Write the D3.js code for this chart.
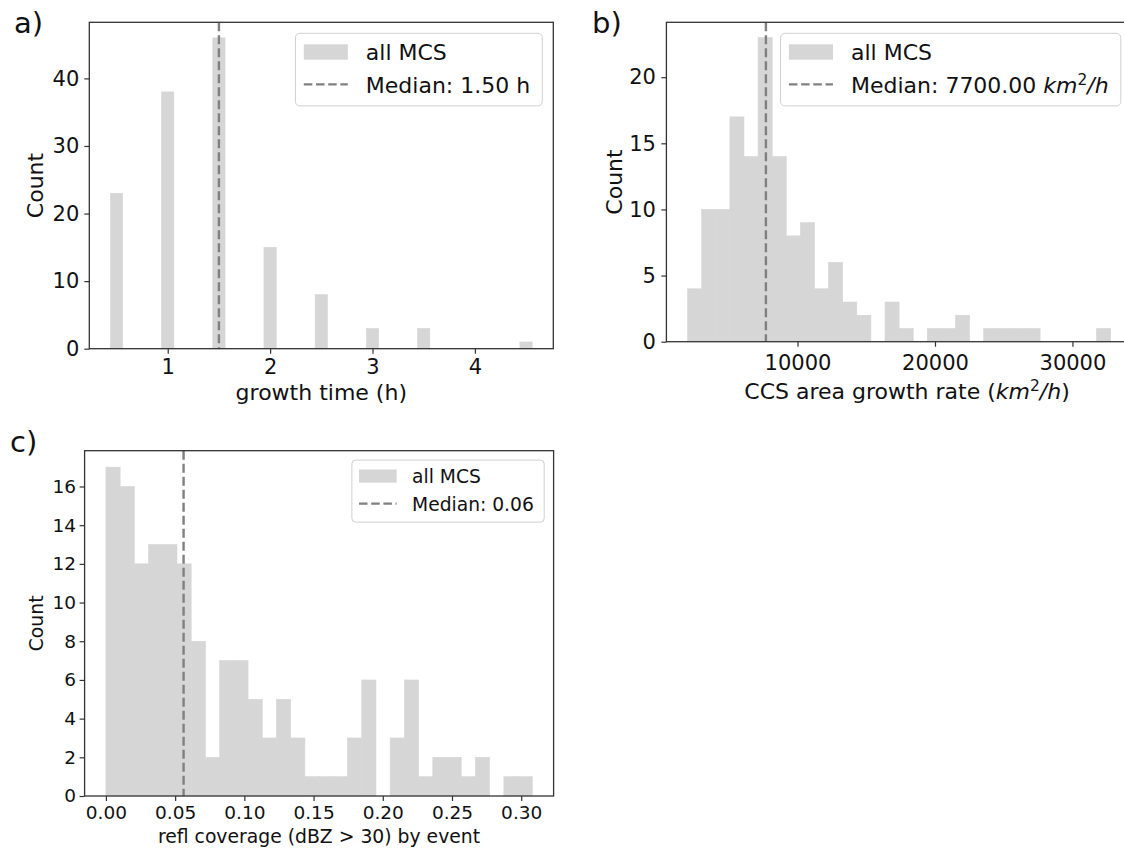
<!DOCTYPE html>
<html>
<head>
<meta charset="utf-8">
<script src="https://cdn.jsdelivr.net/npm/d3@7"></script>
<style>
  body { margin: 0; background: #fff; }
  svg text { font-family: "DejaVu Sans", sans-serif; }
</style>
</head>
<body>
<div id="chart"></div>
<script>
// a) growth time, one bar per half hour
const growthTimes = [0.5, 1.0, 1.5, 2.0, 2.5, 3.0, 3.5, 4.0, 4.5];
const growthCounts = [23, 38, 46, 15, 8, 3, 3, 0, 1];
const growthBarWidth = 0.12;
const growthMedian = 1.5;
const growthXTicks = [1, 2, 3, 4];
const growthYTicks = [0, 10, 20, 30, 40];

// b) CCS area growth rate, 30 bins
const rateMin = 2000;
const rateMax = 32780;
const rateCounts = [4, 10, 10, 17, 14, 23, 14, 8, 9, 4, 6, 3, 2, 0, 3,
                    1, 0, 1, 1, 2, 0, 1, 1, 1, 1, 0, 0, 0, 0, 1];
const rateMedian = 7700;
const rateXTicks = [10000, 20000, 30000];
const rateYTicks = [0, 5, 10, 15, 20];

// c) refl coverage, 30 bins
const reflMin = 0;
const reflMax = 0.308;
const reflCounts = [17, 16, 12, 13, 13, 12, 8, 2, 7, 7, 5, 3, 5, 3, 1,
                    1, 1, 3, 6, 0, 3, 6, 1, 2, 2, 1, 2, 0, 1, 1];
const reflMedian = 0.0561;
const reflXTicks = [0, 0.05, 0.10, 0.15, 0.20, 0.25, 0.30];
const reflYTicks = [0, 2, 4, 6, 8, 10, 12, 14, 16];

const barColor = "#d6d6d6";
const medianColor = "#808080";
const spineColor = "#333";
const textColor = "#111";

const svg = d3.select("#chart")
    .append("svg")
    .attr("width", 1124)
    .attr("height", 848)
    .style("background", "#fff");

function evenBins(min, max, counts) {
    const step = (max - min) / counts.length;
    return counts.map((c, i) => ({ x0: min + i * step, x1: min + (i + 1) * step, count: c }));
}

function drawPanel(p) {
    const g = svg.append("g");
    const lo = d3.min(p.bins, d => d.x0), hi = d3.max(p.bins, d => d.x1);
    const margin = (hi - lo) * 0.05;
    const x = d3.scaleLinear().domain([lo - margin, hi + margin]).range([p.left, p.left + p.width]);
    const y = d3.scaleLinear().domain([0, d3.max(p.bins, d => d.count) * 1.05]).range([p.top + p.height, p.top]);

    g.selectAll("rect.bar")
        .data(p.bins.filter(d => d.count > 0))
        .join("rect")
        .attr("class", "bar")
        .attr("x", d => x(d.x0))
        .attr("width", d => x(d.x1) - x(d.x0))
        .attr("y", d => y(d.count))
        .attr("height", d => y(0) - y(d.count))
        .attr("fill", barColor)
        .attr("stroke", barColor)
        .attr("stroke-width", 0.6);

    // median line over the full height
    g.append("line")
        .attr("x1", x(p.median)).attr("x2", x(p.median))
        .attr("y1", p.top).attr("y2", p.top + p.height)
        .attr("stroke", medianColor)
        .attr("stroke-width", 2.4)
        .attr("stroke-dasharray", "9,4");

    g.append("rect")
        .attr("x", p.left).attr("y", p.top)
        .attr("width", p.width).attr("height", p.height)
        .attr("fill", "none")
        .attr("stroke", spineColor)
        .attr("stroke-width", 1.3);

    const xAxis = g.append("g")
        .attr("transform", `translate(0,${p.top + p.height})`)
        .call(d3.axisBottom(x).tickValues(p.xTicks).tickFormat(p.xFormat).tickSize(5).tickPadding(p.xPad));
    const yAxis = g.append("g")
        .attr("transform", `translate(${p.left},0)`)
        .call(d3.axisLeft(y).tickValues(p.yTicks).tickFormat(d3.format("d")).tickSize(5).tickPadding(p.yPad));
    [xAxis, yAxis].forEach(ax => {
        ax.select(".domain").remove();
        ax.attr("font-size", p.tickFont).attr("font-family", null);
        ax.selectAll("line").attr("stroke", spineColor).attr("stroke-width", 1.2);
        ax.selectAll("text").attr("fill", textColor);
    });

    // axis labels
    const xl = g.append("text")
        .attr("x", p.xLabelX).attr("y", p.xLabelY)
        .attr("text-anchor", "middle")
        .attr("font-size", p.labelFont)
        .attr("fill", textColor);
    p.xLabel(xl);

    g.append("text")
        .attr("transform", `translate(${p.yLabelX},${p.top + p.height / 2}) rotate(-90)`)
        .attr("text-anchor", "middle")
        .attr("font-size", p.labelFont)
        .attr("fill", textColor)
        .text("Count");

    g.append("text")
        .attr("x", p.letterX).attr("y", p.letterY)
        .attr("font-size", 29)
        .attr("fill", textColor)
        .text(p.letter);

    drawLegend(p);
}

function drawLegend(p) {
    const u = p.legendUnit;
    const lg = svg.append("g");
    const box = lg.append("rect")
        .attr("rx", 0.2 * u)
        .attr("fill", "#fff")
        .attr("fill-opacity", 0.8)
        .attr("stroke", "#d0d0d0")
        .attr("stroke-width", 1);

    lg.append("rect")
        .attr("x", 0.38 * u).attr("y", 0.5 * u)
        .attr("width", 2.0 * u).attr("height", 0.7 * u)
        .attr("fill", barColor);
    lg.append("line")
        .attr("x1", 0.38 * u).attr("x2", 2.38 * u)
        .attr("y1", 2.32 * u).attr("y2", 2.32 * u)
        .attr("stroke", medianColor)
        .attr("stroke-width", 2.3)
        .attr("stroke-dasharray", "8.5,3.7");

    const t1 = lg.append("text")
        .attr("x", 3.2 * u).attr("y", 1.21 * u)
        .attr("font-size", p.legendFont)
        .attr("fill", textColor)
        .text("all MCS");
    const t2 = lg.append("text")
        .attr("x", 3.2 * u).attr("y", 2.7 * u)
        .attr("font-size", p.legendFont)
        .attr("fill", textColor);
    p.medianLabel(t2);

    const textW = Math.max(t1.node().getComputedTextLength(), t2.node().getComputedTextLength());
    const boxW = 3.2 * u + textW + 0.55 * u;
    const boxH = 3.3 * u;
    box.attr("width", boxW).attr("height", boxH);
    lg.attr("transform", `translate(${p.left + p.width - 0.5 * u - boxW},${p.top + 0.5 * u})`);
}

// km^2/h written with italics and a raised 2
function unitsText(sel, prefix, size) {
    sel.append("tspan").text(prefix);
    sel.append("tspan").attr("font-style", "italic").text("km");
    sel.append("tspan").attr("font-size", size * 0.7).attr("dy", -size * 0.36).text("2");
    sel.append("tspan").attr("dy", size * 0.36).attr("font-style", "italic").text("/h");
    if (prefix.endsWith("(")) sel.append("tspan").text(")");
}

drawPanel({
    letter: "a)", letterX: 14, letterY: 33,
    left: 89.3, top: 22.3, width: 464, height: 326.4,
    bins: growthTimes.map((t, i) => ({ x0: t - growthBarWidth / 2, x1: t + growthBarWidth / 2, count: growthCounts[i] })),
    median: growthMedian,
    xTicks: growthXTicks, yTicks: growthYTicks, xFormat: d3.format("d"),
    tickFont: 21, labelFont: 22, legendFont: 22, legendUnit: 22,
    xPad: 5.5, yPad: 5,
    xLabelX: 321.3, xLabelY: 400,
    xLabel: s => s.text("growth time (h)"),
    yLabelX: 43,
    medianLabel: s => s.text("Median: 1.50 h")
});

drawPanel({
    letter: "b)", letterX: 592, letterY: 33,
    left: 666.4, top: 22.3, width: 465.4, height: 319.4,
    bins: evenBins(rateMin, rateMax, rateCounts),
    median: rateMedian,
    xTicks: rateXTicks, yTicks: rateYTicks, xFormat: d3.format("d"),
    tickFont: 21, labelFont: 22, legendFont: 22, legendUnit: 22,
    xPad: 8, yPad: 5.5,
    xLabelX: 907, xLabelY: 399,
    xLabel: s => unitsText(s, "CCS area growth rate (", 22),
    yLabelX: 621.5,
    medianLabel: s => unitsText(s, "Median: 7700.00 ", 22)
});

drawPanel({
    letter: "c)", letterX: 10, letterY: 452,
    left: 84.6, top: 450.7, width: 469, height: 345.3,
    bins: evenBins(reflMin, reflMax, reflCounts),
    median: reflMedian,
    xTicks: reflXTicks, yTicks: reflYTicks, xFormat: d3.format(".2f"),
    tickFont: 18.5, labelFont: 18.8, legendFont: 18.7, legendUnit: 18.8,
    xPad: 5, yPad: 3.5,
    xLabelX: 319, xLabelY: 843,
    xLabel: s => s.text("refl coverage (dBZ > 30) by event"),
    yLabelX: 43,
    medianLabel: s => s.text("Median: 0.06")
});
</script>
</body>
</html>
